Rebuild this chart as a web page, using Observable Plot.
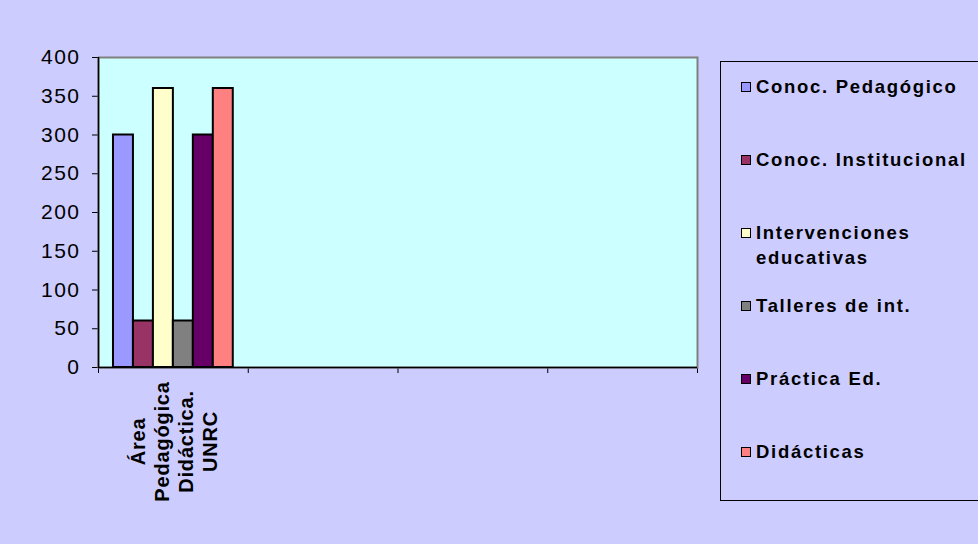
<!DOCTYPE html>
<html><head><meta charset="utf-8">
<script src="https://cdn.jsdelivr.net/npm/d3@7"></script>
<script src="https://cdn.jsdelivr.net/npm/@observablehq/plot@0.6"></script>
<style>
body{margin:0;background:#CCCCFF;font-family:"Liberation Sans",Arial,sans-serif;}
#wrap{position:relative;width:978px;height:544px;overflow:hidden;background:#CCCCFF;}
#legend{position:absolute;left:720px;top:61px;width:290px;height:440px;border:1px solid #000;box-sizing:border-box;}
.item{position:absolute;left:20px;display:flex;align-items:flex-start;font-weight:bold;font-size:18.5px;letter-spacing:1.7px;color:#000;line-height:25px;}
.sw{width:8px;height:8px;border:1.5px solid #000;margin-top:8px;margin-right:5px;flex:none;}
.lbl{width:220px;}
</style></head><body><div id="wrap"></div>
<script>
// ---- data ----
const categories = ["Área\nPedagógica\nDidáctica.\nUNRC", "", "", ""];
const series = ["Conoc. Pedagógico", "Conoc. Institucional", "Intervenciones educativas", "Talleres de int.", "Práctica Ed.", "Didácticas"];
const values = [300, 60, 360, 60, 300, 360]; // category 0 only
const colors = ["#9999FF", "#993366", "#FFFFCC", "#808080", "#660066", "#FF8080"];
const yTicks = [0, 50, 100, 150, 200, 250, 300, 350, 400];

// ---- build table ----
const rows = series.map((s, j) => ({ci: 0, j, series: s, value: values[j]}));
const gap = 0.1;                       // Excel gap width 150%
const bw = (1 - 2 * gap) / series.length;

const plot = Plot.plot({
  width: 978,
  height: 544,
  marginLeft: 98,
  marginRight: 281,
  marginTop: 57,
  marginBottom: 177,
  style: {background: "#CCCCFF", fontFamily: "'Liberation Sans', Arial, sans-serif", fontSize: "21px", color: "#000", letterSpacing: "1.5px"},
  x: {domain: [0, categories.length], ticks: d3.range(categories.length + 1), tickFormat: () => "", tickSize: 6, line: true, label: null},
  y: {domain: [0, 400], ticks: yTicks, tickSize: 6, tickPadding: 12, line: true, label: null},
  color: {domain: series, range: colors},
  marks: [
    Plot.frame({fill: "#CCFFFF", stroke: "#808080", strokeWidth: 2}),
    Plot.rectY(rows, {
      x1: d => d.ci + gap + d.j * bw,
      x2: d => d.ci + gap + (d.j + 1) * bw,
      y: "value",
      fill: "series",
      stroke: "#000",
      strokeWidth: 2
    }),
    Plot.ruleX([0], {stroke: "#000", strokeWidth: 1.5}),
    Plot.ruleY([0], {stroke: "#000", strokeWidth: 1.5}),
    Plot.text(categories, {
      x: (d, i) => i + 0.5,
      y: () => 0,
      text: d => d,
      rotate: -90,
      dy: 74,
      textAnchor: "middle",
      lineAnchor: "middle",
      lineHeight: 1.2,
      fontWeight: "bold",
      fontSize: 20,
      fill: "#000"
    })
  ]
});
plot.style.position = "absolute";
plot.style.left = "0px";
plot.style.top = "0px";
plot.querySelectorAll("text").forEach(t => {
  if (t.closest("g[aria-label='text']")) t.style.letterSpacing = "0.8px";
});
const wrap = document.getElementById("wrap");
wrap.appendChild(plot);

// ---- legend ----
const legend = document.createElement("div");
legend.id = "legend";
series.forEach((s, j) => {
  const it = document.createElement("div");
  it.className = "item";
  it.style.top = (12 + j * 73) + "px";
  const sw = document.createElement("div");
  sw.className = "sw";
  sw.style.background = colors[j];
  const t = document.createElement("div");
  t.className = "lbl";
  t.textContent = s;
  it.appendChild(sw);
  it.appendChild(t);
  legend.appendChild(it);
});
wrap.appendChild(legend);
</script>
</body></html>
